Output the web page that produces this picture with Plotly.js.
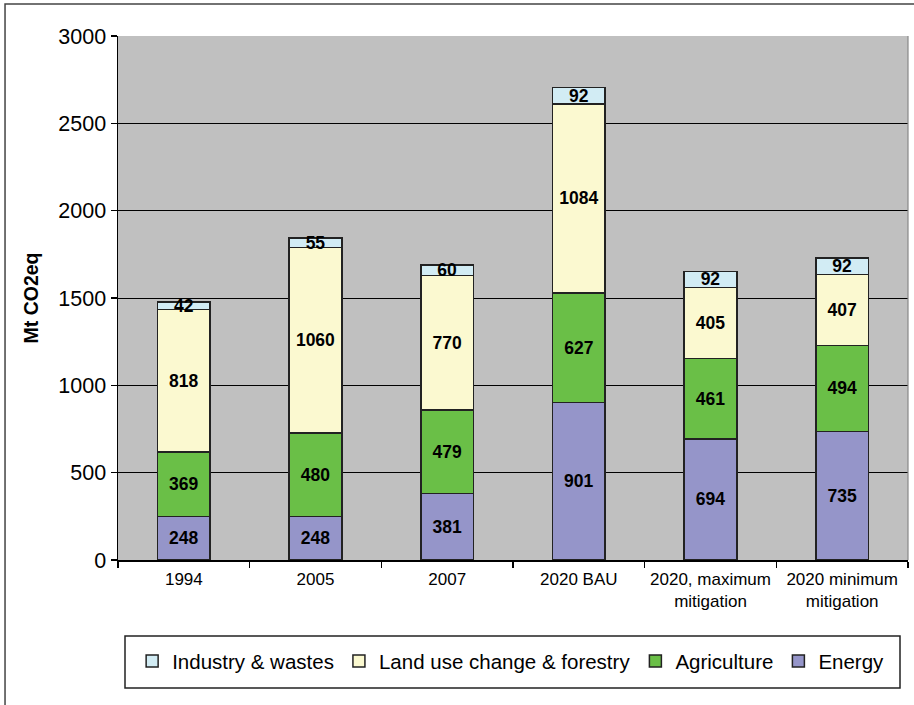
<!DOCTYPE html>
<html>
<head>
<meta charset="utf-8">
<script src="https://cdn.plot.ly/plotly-3.0.1.min.js"></script>
<style>html,body{margin:0;padding:0;background:#fff;}#chart{width:914px;height:705px;}</style>
</head>
<body>
<div id="chart"></div>
<script>
const categories = ["1994", "2005", "2007", "2020 BAU", "2020, maximum<br>mitigation", "2020 minimum<br>mitigation"];
const energy = [248, 248, 381, 901, 694, 735];
const agriculture = [369, 480, 479, 627, 461, 494];
const landUse = [818, 1060, 770, 1084, 405, 407];
const industry = [42, 55, 60, 92, 92, 92];
const seriesNames = ["Energy", "Agriculture", "Land use change & forestry", "Industry & wastes"];
const seriesColors = ["#9595c9", "#6abf47", "#fbf9d0", "#d2ecf4"];
const yTicks = [0, 500, 1000, 1500, 2000, 2500, 3000];

const seriesData = [energy, agriculture, landUse, industry];
const traces = seriesData.map((vals, i) => ({
  type: "bar",
  name: seriesNames[i],
  x: categories,
  y: vals,
  text: vals.map(String),
  texttemplate: "%{text}",
  textposition: "inside",
  insidetextanchor: "middle",
  constraintext: "none",
  textangle: 0,
  insidetextfont: {family: "Liberation Sans, Arial, sans-serif", size: 17.5, color: "#000", weight: "bold"},
  marker: {color: seriesColors[i], line: {color: "#222", width: 1.5}},
  hoverinfo: "x+y+name"
}));

const layout = {
  width: 914, height: 705,
  margin: {l: 118, r: 6, t: 36, b: 145},
  paper_bgcolor: "#ffffff",
  plot_bgcolor: "#c0c0c0",
  barmode: "stack",
  bargap: 0.6,
  font: {family: "Liberation Sans, Arial, sans-serif", color: "#000"},
  xaxis: {
    type: "category",
    tickson: "boundaries",
    tickangle: 0,
    automargin: false,
    ticks: "outside", ticklen: 6, tickwidth: 1.5, tickcolor: "#000",
    ticklabelstandoff: 3,
    showline: true, linecolor: "#000", linewidth: 1.5,
    showgrid: false,
    tickfont: {size: 17, color: "#000"},
    fixedrange: true
  },
  yaxis: {
    range: [0, 3000],
    automargin: false,
    tickvals: yTicks,
    ticktext: yTicks.map(String),
    ticks: "outside", ticklen: 6, tickwidth: 1.5, tickcolor: "#000",
    showline: true, linecolor: "#000", linewidth: 1.5,
    showgrid: true, gridcolor: "#000", gridwidth: 1,
    zeroline: false,
    tickfont: {size: 21.5, color: "#000"},
    title: {text: "Mt CO2eq", font: {size: 19.5, weight: "bold", color: "#000"}, standoff: 14},
    fixedrange: true
  },
  showlegend: true,
  legend: {
    orientation: "h",
    traceorder: "reversed",
    x: 0.497, xanchor: "center",
    y: -0.155, yanchor: "top",
    font: {size: 20.5, color: "#000"},
    bgcolor: "rgba(0,0,0,0)",
    borderwidth: 0,
    itemwidth: 30,
    tracegroupgap: 0
  },
  shapes: [
    {type: "rect", xref: "paper", yref: "paper", x0: -0.143, x1: 1.02, y0: -0.3, y1: 1.061,
     line: {color: "#444", width: 1.5}, fillcolor: "rgba(0,0,0,0)", layer: "below"},
    {type: "line", xref: "paper", yref: "paper", x0: 1, x1: 1, y0: 0, y1: 1,
     line: {color: "#888", width: 1.2}},
    {type: "rect", xref: "paper", yref: "paper", x0: (125 - 118) / 790, x1: (900 - 118) / 790,
     y0: (560 - 688) / 524, y1: (560 - 636) / 524,
     line: {color: "#222", width: 1.5}, fillcolor: "rgba(0,0,0,0)"}
  ]
};

Plotly.newPlot("chart", traces, layout, {displayModeBar: false, staticPlot: true});
</script>
</body>
</html>
